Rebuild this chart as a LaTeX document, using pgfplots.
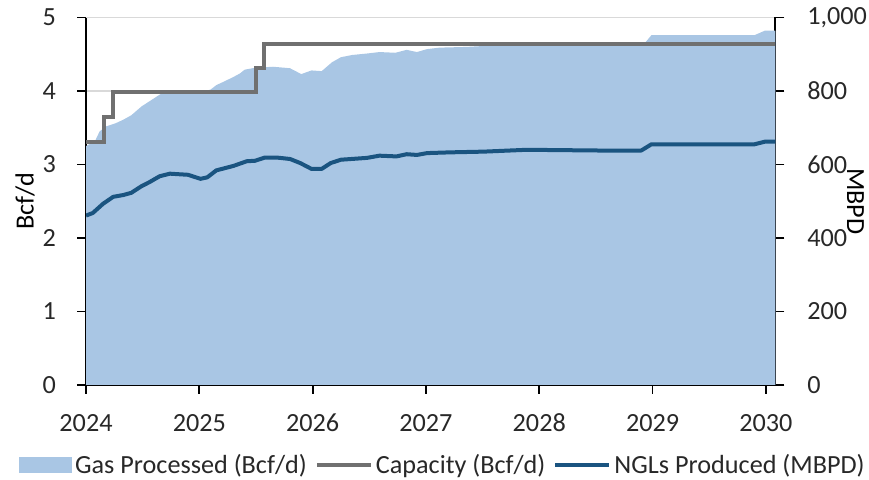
\documentclass[border=0pt]{standalone}
\usepackage{fontspec}
\setmainfont{Carlito}
\usepackage{pgfplots}
\pgfplotsset{compat=1.18}
\definecolor{gasfill}{RGB}{169,198,228}
\definecolor{capgray}{RGB}{112,112,112}
\definecolor{nglblue}{RGB}{26,84,128}
\definecolor{gridgray}{RGB}{217,217,217}
\definecolor{txt}{RGB}{40,40,40}
\begin{document}
\begin{tikzpicture}
\pgfplotsset{set layers,
 common/.style={
  scale only axis, width=344.65pt, height=183.75pt,
  at={(43pt,-192.5pt)}, anchor=south west,
  xmin=2024, xmax=2030.083,
  font=\fontsize{13.1}{16}\selectfont,
  tick align=outside, major tick length=4.5pt,
  tick style={black, line width=0.9pt},
  scaled ticks=false,
  /pgf/number format/assume math mode=true,
  ticklabel style={text=txt},
  label style={text=txt},
  axis line style={-, black, line width=0.9pt},
 }}
\begin{axis}[common,
  axis x line*=bottom, axis y line*=left,
  ymin=0, ymax=5, ytick={0,1,2,3,4,5},
  xtick={2024,2025,2026,2027,2028,2029,2030},
  xticklabel style={/pgf/number format/1000 sep={}, yshift=-6.5pt},
  yticklabel style={xshift=-7pt},
  ymajorgrids, grid style={gridgray, line width=0.75pt},
  ylabel={Bcf/d},
  every axis y label/.style={at={(axis description cs:-0.0885,0.5)}, rotate=90, anchor=center},
]
\addplot[fill=gasfill, draw=none] coordinates {
(2024.00,3.25) (2024.08,3.32) (2024.12,3.45) (2024.18,3.52) (2024.26,3.56)
(2024.33,3.61) (2024.40,3.67) (2024.49,3.79) (2024.58,3.88) (2024.67,3.97)
(2024.75,4.00) (2024.85,3.99) (2024.95,3.99) (2025.05,4.00) (2025.10,4.02)
(2025.15,4.08) (2025.22,4.13) (2025.30,4.19) (2025.36,4.24) (2025.40,4.29)
(2025.47,4.31) (2025.54,4.32) (2025.65,4.33) (2025.80,4.31) (2025.90,4.23)
(2025.99,4.28) (2026.08,4.27) (2026.17,4.39) (2026.25,4.46) (2026.35,4.49)
(2026.48,4.51) (2026.59,4.53) (2026.73,4.52) (2026.83,4.56) (2026.92,4.53)
(2027.01,4.57) (2027.12,4.59) (2027.36,4.60) (2027.60,4.62) (2028.00,4.63)
(2028.50,4.63) (2028.92,4.63) (2028.99,4.76) (2029.90,4.76) (2029.99,4.82)
(2030.083,4.82)
} \closedcycle;
\addplot[const plot, capgray, line width=2pt] coordinates {
(2024.00,3.31) (2024.16,3.65) (2024.24,3.98) (2025.50,4.31) (2025.57,4.64) (2030.083,4.64)
};
\end{axis}
\begin{axis}[common,
  axis y line*=right, axis x line=none, xtick=\empty,
  ymin=0, ymax=1000, ytick={0,200,400,600,800,1000},
  yticklabel style={xshift=8pt},
  ylabel={MBPD},
  every axis y label/.style={at={(axis description cs:1.1164,0.5)}, rotate=-90, anchor=center},
  legend columns=3,
  legend style={at={(axis description cs:0.5165,-0.2177)}, anchor=center,
    draw=none, fill=none, inner sep=0pt, outer sep=0pt,
    nodes={inner sep=0pt, text=txt},
    /tikz/every odd column/.append style={column sep=1.5pt},
    /tikz/every even column/.append style={column sep=4pt}},
]
\addlegendimage{legend image code/.code={\fill[gasfill] (0pt,-3.75pt) rectangle (26pt,3.75pt);}}
\addlegendentry{Gas Processed (Bcf/d)}
\addlegendimage{legend image code/.code={\draw[capgray, line width=2pt] (0pt,0pt) -- (27pt,0pt);}}
\addlegendentry{Capacity (Bcf/d)}
\addplot[nglblue, line width=2pt, line join=round,
  legend image code/.code={\draw[nglblue, line width=2pt] (0pt,0pt) -- (27pt,0pt);}] coordinates {
(2024.00,461) (2024.06,468) (2024.15,493) (2024.24,512) (2024.33,517)
(2024.40,523) (2024.49,541) (2024.56,552) (2024.65,568) (2024.74,575)
(2024.90,572) (2025.01,561) (2025.07,565) (2025.15,584) (2025.30,596)
(2025.42,609) (2025.49,610) (2025.58,619) (2025.68,619) (2025.80,615)
(2025.89,604) (2025.99,588) (2026.08,588) (2026.16,604) (2026.25,613)
(2026.48,618) (2026.59,624) (2026.74,622) (2026.83,628) (2026.92,626)
(2027.01,631) (2027.21,633) (2027.51,635) (2027.89,640) (2028.54,638)
(2028.90,638) (2028.99,655) (2029.90,655) (2029.99,662) (2030.083,662)
};
\addlegendentry{NGLs Produced (MBPD)}
\end{axis}
\pgfresetboundingbox
\useasboundingbox (0pt,0pt) rectangle (434.5pt,-240pt);
\end{tikzpicture}
\end{document}
